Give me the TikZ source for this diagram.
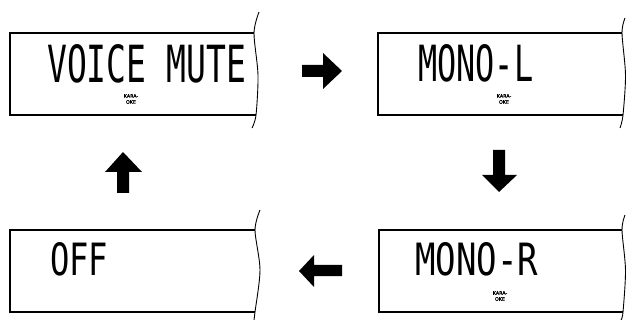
\documentclass[tikz,border=0pt]{standalone}
\usepackage{graphicx}
\usepackage{fontspec}
\newfontfamily\lcdfont{DejaVu Sans Mono}
\newfontfamily\karafont{DejaVu Sans}[FakeBold=1.5]
\tikzset{
  frame/.style={line width=1.4pt, line join=miter},
  tornedge/.style={line width=0.9pt},
  blockarrow/.style={fill=black},
  lcdtext/.style={inner sep=0pt, anchor=north west},
  kara/.style={font=\karafont\fontsize{4.8}{6}\selectfont, align=center, inner sep=0pt}
}
\begin{document}
\begin{tikzpicture}[x=1pt,y=-1pt]
\useasboundingbox (0,0) rectangle (626,320);
% ---- panel 1: VOICE MUTE
\draw[frame] (254,33) -- (10,33) -- (10,115) -- (256,115);
\draw[tornedge] plot[smooth] coordinates {(259,12) (254,33) (258,75) (256,115) (252,128)};
\node[lcdtext] (t1) at (47,44) {\resizebox{199pt}{38pt}{\lcdfont VOICE MUTE}};
\node[kara] (k1) at (131,99) {KARA-\\OKE};
% ---- panel 2: MONO-L
\draw[frame] (622,33) -- (378,33) -- (378,115) -- (623,115);
\draw[tornedge] plot[smooth] coordinates {(625,18) (622,33) (625.5,75) (623,115) (620,128)};
\node[lcdtext] (t2) at (418,44) {\resizebox{115pt}{37pt}{\lcdfont MONO-L}};
\node[kara] (k2) at (504,99) {KARA-\\OKE};
% ---- panel 3: OFF
\draw[frame] (255,230) -- (10,230) -- (10,312) -- (255,312);
\draw[tornedge] plot[smooth] coordinates {(260,210) (255,230) (260,270) (255,312) (254,320)};
\node[lcdtext] (t3) at (50,242) {\resizebox{58pt}{33pt}{\lcdfont OFF}};
% ---- panel 4: MONO-R
\draw[frame] (622,230) -- (379,230) -- (379,312) -- (623,312);
\draw[tornedge] plot[smooth] coordinates {(625,215) (622,230) (625.5,270) (623,312) (621,320)};
\node[lcdtext] (t4) at (415,242) {\resizebox{123pt}{33pt}{\lcdfont MONO-R}};
\node[kara] (k4) at (500,296) {KARA-\\OKE};
% ---- arrows
\fill[blockarrow] (302,65) -- (323,65) -- (323,53) -- (342,71) -- (323,89) -- (323,77) -- (302,77) -- cycle;
\fill[blockarrow] (493,150) -- (505,150) -- (505,175) -- (517,175) -- (499,192) -- (482,175) -- (493,175) -- cycle;
\fill[blockarrow] (342,265) -- (314,265) -- (314,255) -- (299,271) -- (314,287) -- (314,276) -- (342,276) -- cycle;
\fill[blockarrow] (117,193) -- (117,172) -- (105,172) -- (123,152) -- (142,172) -- (129,172) -- (129,193) -- cycle;
\end{tikzpicture}
\end{document}
